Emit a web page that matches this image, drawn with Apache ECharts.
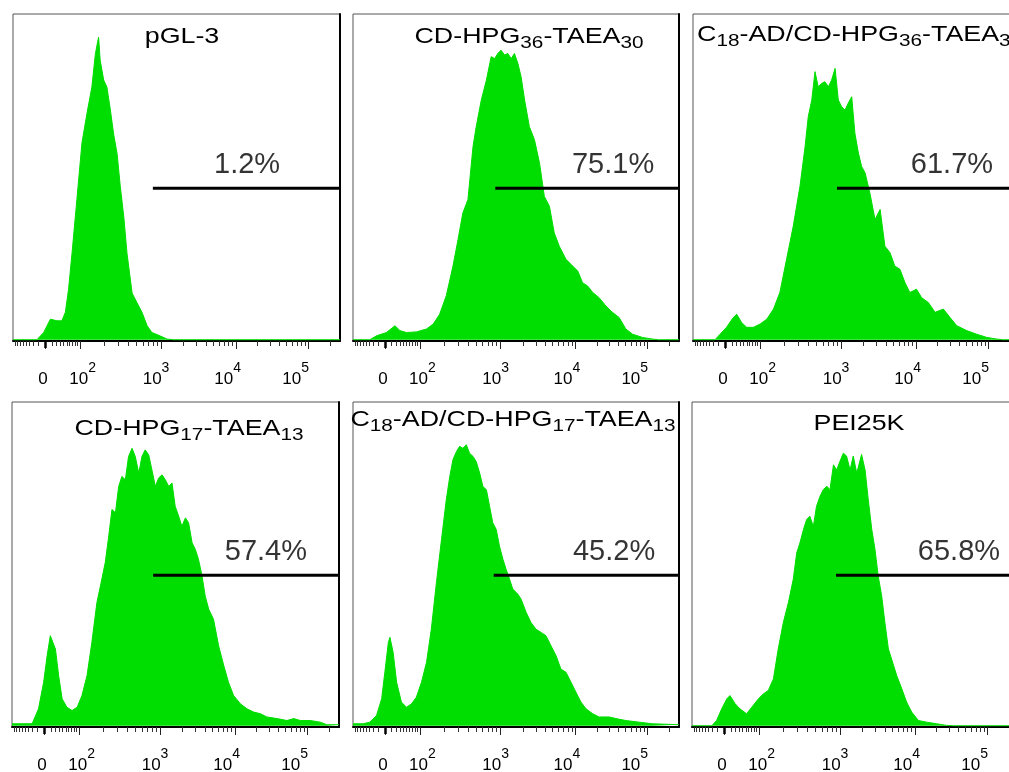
<!DOCTYPE html>
<html lang="en">
<head>
<meta charset="UTF-8">
<title>Transfection efficiency - flow cytometry</title>
<script src="https://cdn.jsdelivr.net/npm/echarts@6/dist/echarts.min.js"></script>
<style>
  html, body { margin: 0; padding: 0; background: #fff; }
  #chart { width: 1009px; height: 772px; }
</style>
</head>
<body>
<div id="chart"></div>
<script>
// x = display channel (0..1024) of the biexponential FACS scale, y = % of panel height
var pGL3 = [[0,0],[75,0],[96,2.2],[117,6.3],[122,6.8],[138,5.8],[153,5.8],[164,8.4],[174,15.5],[185,26.7],[200,43],[216,60.5],[232,69.7],[247,77.6],[258,87.8],[268,92.9],[273,85.8],[284,79.7],[294,77.6],[305,70.5],[315,63.2],[326,57.1],[336,47],[347,37.7],[357,26.5],[373,14.3],[388,11.4],[404,8.4],[420,4.3],[435,2.2],[460,1.2],[482,0.2],[501,0],[1024,0]];
var hpg36 = [[0,0],[53,0],[74,1.2],[105,2.2],[132,4.3],[147,2.8],[168,2.2],[199,2.4],[231,3.3],[252,4.8],[272,7.8],[293,13.5],[314,22.6],[330,30.8],[345,38.9],[361,43],[377,59.3],[387,65.4],[403,73.6],[419,79.7],[434,86.9],[445,86.3],[455,87.9],[465,88.9],[476,87.4],[486,87.9],[497,86.3],[507,87.9],[518,84.8],[528,80.7],[539,73.6],[554,65.4],[570,61.4],[586,54.2],[601,44],[617,41],[632,32.8],[648,28.7],[669,24.7],[690,22.6],[706,21.1],[721,17.5],[737,16.5],[753,14.5],[773,12.9],[794,10.4],[815,8.4],[836,6.8],[857,3.3],[878,1.7],[909,0.7],[940,0.2],[960,0],[1024,0]];
var c18Hpg36 = [[0,0],[69,0],[85,1.7],[105,3.8],[126,6.8],[137,7.8],[152,5.3],[168,3.8],[189,3.8],[210,4.8],[231,6.3],[252,9.4],[272,14.5],[293,24.7],[314,34.9],[335,47.1],[351,59.3],[361,68.5],[372,73.6],[382,82.3],[392,77.7],[403,78.7],[413,79.2],[424,77.7],[434,79.7],[445,83.3],[455,73.6],[465,71.6],[476,70.5],[486,72.6],[497,74.6],[507,63.4],[518,57.3],[528,53.2],[539,51.2],[554,45],[570,36.9],[586,40],[601,28.7],[617,26.7],[632,22.6],[648,21.6],[664,17.5],[679,14.5],[700,15.5],[716,12.9],[737,11.4],[758,8.4],[784,9.4],[805,6.8],[826,4.3],[857,2.8],[888,1.7],[920,0.7],[951,0.2],[970,0],[1024,0]];
var hpg17 = [[0,0.6],[63,0.6],[68,1.1],[83,5.2],[99,13.4],[110,21.6],[120,27.8],[125,28.3],[136,23.7],[146,15.5],[157,8.3],[172,5.7],[188,4.7],[204,5.7],[219,9.3],[235,15.5],[250,25.7],[266,38.1],[277,43.2],[292,50.4],[303,58.6],[313,66.8],[324,65.8],[334,73.9],[344,77],[355,76],[365,83.2],[376,85.7],[386,83.2],[397,78],[407,83.2],[417,85.2],[428,83.7],[438,79.1],[449,73.9],[459,76.5],[470,77.5],[480,76],[491,73.9],[501,75],[511,67.8],[522,64.7],[532,61.6],[543,64.2],[553,62.7],[564,56.5],[574,54.5],[584,51.4],[595,46.3],[605,40.1],[616,36],[631,32.9],[647,24.7],[663,18.6],[678,13.4],[694,9.3],[715,6.8],[736,5.2],[757,4.2],[778,3.7],[798,2.7],[830,2.2],[861,1.6],[882,2.2],[903,1.6],[934,1.6],[965,1.1],[986,0.3],[1024,0.3]];
var c18Hpg17 = [[0,0.6],[32,0.6],[53,1.1],[74,3.2],[90,8.3],[100,16.5],[111,25.7],[116,27.3],[126,22.7],[137,13.4],[152,7.3],[168,5.7],[184,6.8],[199,8.8],[215,13.4],[231,19.6],[246,29.8],[262,44.2],[278,57.5],[293,69.8],[304,77],[314,82.2],[325,84.7],[335,86.3],[345,85.7],[356,86.8],[366,84.2],[377,83.2],[387,81.6],[398,78],[408,73.9],[419,72.9],[429,67.8],[439,62.7],[450,60.6],[460,55.5],[471,51.4],[481,48.3],[492,45.2],[502,42.2],[518,40.6],[528,39.1],[544,35],[559,31.9],[575,29.8],[591,28.8],[606,27.8],[622,24.7],[638,21.6],[653,17.5],[669,16.5],[685,13.4],[700,10.4],[716,7.3],[732,5.2],[753,3.7],[773,2.7],[805,2.7],[826,2.2],[857,1.6],[899,1.1],[940,0.6],[1024,0.3]];
var pei25k = [[0,0],[62,0],[77,1.6],[93,5.2],[109,8.3],[119,9.3],[135,6.8],[150,5.2],[171,3.7],[187,5.7],[208,8.3],[223,9.8],[239,10.9],[255,14.5],[270,23.7],[286,31.9],[302,38.1],[317,45.2],[328,53.4],[338,56.5],[349,60.6],[359,63.7],[369,64.7],[380,61.6],[390,67.8],[401,70.9],[411,72.9],[422,74],[432,72.9],[443,80.6],[453,79],[463,81.6],[474,84.2],[484,83.3],[495,79],[505,83.3],[516,78],[531,83.8],[542,79],[552,69.8],[563,60.6],[573,54.5],[583,46.3],[594,40.1],[604,31.9],[615,23.7],[625,20.6],[641,15.5],[657,11.4],[672,7.3],[688,4.2],[709,1.6],[735,1.1],[766,0.6],[797,0.1],[820,0],[1024,0]];

var histograms = [pGL3, hpg36, c18Hpg36, hpg17, c18Hpg17, pei25k];
var titles = ['pGL-3', 'CD-HPG{s|36}-TAEA{s|30}', 'C{s|18}-AD/CD-HPG{s|36}-TAEA{s|30}',
              'CD-HPG{s|17}-TAEA{s|13}', 'C{s|18}-AD/CD-HPG{s|17}-TAEA{s|13}', 'PEI25K'];
var percents = ['1.2%', '75.1%', '61.7%', '57.4%', '45.2%', '65.8%'];
var gateStart = [438, 447, 451, 442, 442, 451];
var gateLevel = 46.5;

// axis: 0, 10^2, 10^3, 10^4, 10^5 in display channels
var majorTicks = [100, 210, 463, 698, 924];
var labelValues = [94, 218, 448, 672, 885];
var labelTexts = ['{b|0}', '{b|10}{sup|2}', '{b|10}{sup|3}', '{b|10}{sup|4}', '{b|10}{sup|5}'];

// layout
var boxes = [
  [13, 14, 327, 327], [353, 14, 326, 327], [693, 14, 327, 327],
  [12, 402, 327, 325], [353, 402, 326, 325], [692, 402, 327, 325]
];
var titlePos = [[182, 37, 'center'], [529, 37, 'center'], [697, 35, 'left'],
                [189, 429, 'center'], [513, 420, 'center'], [859, 424, 'center']];
var pctAt = [733, 817, 811, 795, 820, 836];

var FONT = '"Liberation Sans", Arial, Helvetica, sans-serif';
var GREEN = '#00dd00';

// minor ticks (biexponential look)
var minorTicks = [];
var z = majorTicks[0], m2 = majorTicks[1];
[10, 20, 30, 40, 50, 60, 70, 80, 90].forEach(function (v) {
  var f = (v / 100 + Math.log10(1 + v / 10) / Math.log10(11)) / 2;
  minorTicks.push(z + (m2 - z) * f);
  if (z - (m2 - z) * f > 0) minorTicks.push(z - (m2 - z) * f);
});
for (var d = 1; d < 4; d++) {
  for (var k = 2; k <= 9; k++) {
    minorTicks.push(majorTicks[d] + (majorTicks[d + 1] - majorTicks[d]) * Math.log10(k));
  }
}
minorTicks.push(majorTicks[4] + (majorTicks[4] - majorTicks[3]) * Math.log10(2));

var chart = echarts.init(document.getElementById('chart'));
var grid = [], xAxis = [], yAxis = [], series = [], graphic = [];

boxes.forEach(function (b, i) {
  grid.push({ left: b[0], top: b[1], width: b[2], height: b[3], show: true,
              outerBoundsMode: 'none', containLabel: false,
              borderColor: '#555', borderWidth: 1, backgroundColor: '#fff' });
  var base = { type: 'value', gridIndex: i, position: 'bottom', offset: 0,
               min: 0, max: 1024, splitLine: { show: false } };
  xAxis.push(Object.assign({}, base, {
    axisLine: { show: true, onZero: false, lineStyle: { color: '#000', width: 2 } },
    axisTick: { show: true, customValues: majorTicks, length: 8, lineStyle: { color: '#222', width: 1 } },
    axisLabel: {
      show: true, customValues: labelValues, margin: 30, color: '#000',
      formatter: function (v) { return labelTexts[labelValues.indexOf(v)]; },
      rich: {
        b: { fontSize: 17, lineHeight: 17, fontFamily: FONT, color: '#000' },
        sup: { fontSize: 14, lineHeight: 14, padding: [0, 0, 22, 0], fontFamily: FONT, color: '#000' }
      }
    }
  }));
  xAxis.push(Object.assign({}, base, {
    axisLine: { show: false, onZero: false },
    axisTick: { show: true, customValues: minorTicks, length: 5, lineStyle: { color: '#333', width: 1 } },
    axisLabel: { show: false }
  }));
  xAxis.push(Object.assign({}, base, {
    axisLine: { show: false, onZero: false },
    axisTick: { show: true, customValues: [majorTicks[0]], length: 7, lineStyle: { color: '#000', width: 2.5 } },
    axisLabel: { show: false }
  }));
  yAxis.push({ type: 'value', gridIndex: i, min: -0.4, max: 100, position: 'right',
    axisLine: { show: true, onZero: false, lineStyle: { color: '#000', width: 2 } },
    axisTick: { show: false }, axisLabel: { show: false }, splitLine: { show: false } });

  series.push({
    type: 'line', xAxisIndex: 3 * i, yAxisIndex: i, data: histograms[i],
    symbol: 'none', silent: true, z: 2,
    lineStyle: { color: GREEN, width: 1 },
    areaStyle: { color: GREEN, opacity: 1 }
  });
  series.push({
    type: 'line', xAxisIndex: 3 * i, yAxisIndex: i,
    data: [[gateStart[i], gateLevel], [1024, gateLevel]],
    symbol: 'none', silent: true, z: 5,
    lineStyle: { color: '#000', width: 3 }
  });
  series.push({
    type: 'scatter', xAxisIndex: 3 * i, yAxisIndex: i,
    data: [[pctAt[i], gateLevel]], symbolSize: 0, silent: true, z: 6,
    label: { show: true, position: 'top', distance: 9, formatter: percents[i],
             fontSize: 29, fontFamily: FONT, color: '#000', textBorderWidth: 0 }
  });

  graphic.push({
    type: 'text', x: titlePos[i][0], y: titlePos[i][1], scaleX: 1.22, z: 10,
    style: {
      text: titles[i], fontSize: 22, fontFamily: FONT, fill: '#000', lineHeight: 30,
      align: titlePos[i][2], textAlign: titlePos[i][2],
      verticalAlign: 'middle', textVerticalAlign: 'middle',
      rich: { s: { fontSize: 17, lineHeight: 17, verticalAlign: 'bottom', fontFamily: FONT, fill: '#000' } }
    }
  });
});

chart.setOption({
  animation: false,
  backgroundColor: '#fff',
  grid: grid,
  xAxis: xAxis,
  yAxis: yAxis,
  series: series,
  graphic: graphic
});
</script>
</body>
</html>
